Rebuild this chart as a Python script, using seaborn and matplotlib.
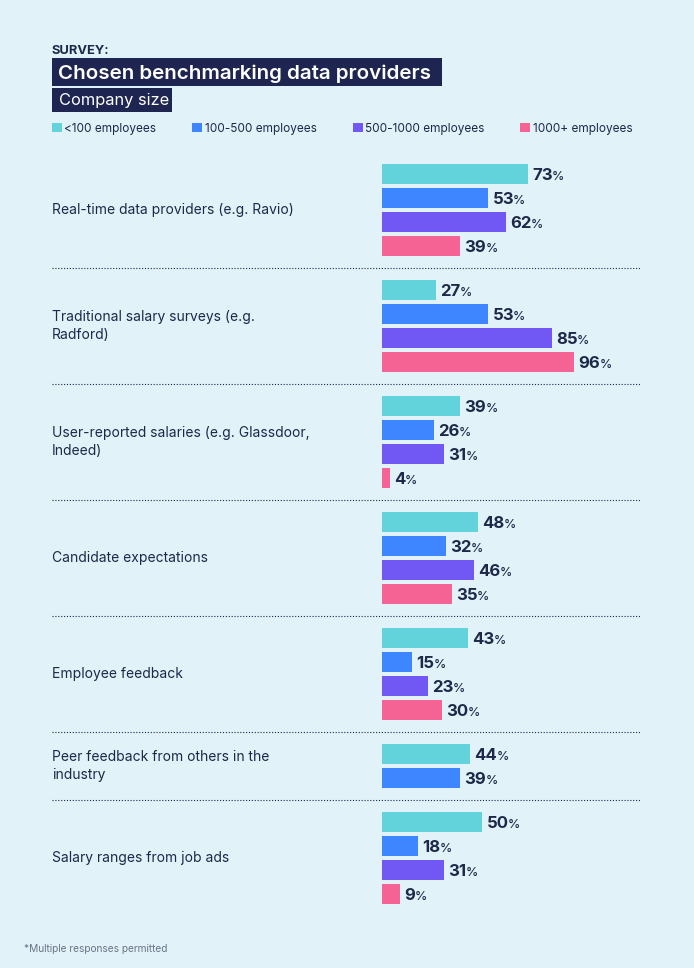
import pandas as pd
import numpy as np
import seaborn as sns
import matplotlib.pyplot as plt
from matplotlib.patches import Patch, Rectangle

# data
groups = ['Real-time data providers (e.g. Ravio)',
          'Traditional salary surveys (e.g.\nRadford)',
          'User-reported salaries (e.g. Glassdoor,\nIndeed)',
          'Candidate expectations',
          'Employee feedback',
          'Peer feedback from others in the\nindustry',
          'Salary ranges from job ads']
sizes = ['<100 employees', '100-500 employees', '500-1000 employees', '1000+ employees']
under_100 = [73, 27, 39, 48, 43, 44, 50]
from_100_500 = [53, 53, 26, 32, 15, 39, 18]
from_500_1000 = [62, 85, 31, 46, 23, np.nan, 31]
over_1000 = [39, 96, 4, 35, 30, np.nan, 9]

colors = ['#63d3db', '#3d86ff', '#7158f5', '#f46394']
bg = '#e1f3f8'
navy = '#1e2849'
box = '#1d2550'

series = [under_100, from_100_500, from_500_1000, over_1000]

# one row per bar, stacked down the page; groups separated by an extra gap
gap = 0.833
rows = []
label_pos = []
sep_pos = []
pos = 0.0
for gi, g in enumerate(groups):
    ps = []
    for si, s in enumerate(sizes):
        v = series[si][gi]
        if np.isnan(v):
            continue
        rows.append({'group': g, 'size': s, 'value': v, 'pos': round(pos, 3)})
        ps.append(pos)
        pos += 1
    label_pos.append(np.mean(ps))
    if gi < len(groups) - 1:
        sep_pos.append(ps[-1] + (1 + gap) / 2)
    pos += gap
df = pd.DataFrame(rows)

sns.set_theme(style='white')
plt.rcParams['font.family'] = ['Inter', 'DejaVu Sans']

W, H = 694, 968
fig = plt.figure(figsize=(W / 100, H / 100), dpi=100, facecolor=bg)

# axes spans the text column too; x=0 sits where the bars start
ax = fig.add_axes([52 / W, 1 - 930 / H, 589 / W, 780 / H])
ax.set_facecolor(bg)
sns.barplot(data=df, x='value', y='pos', hue='size', hue_order=sizes,
            palette=colors, orient='h', native_scale=True, dodge=False,
            width=0.833, saturation=1, errorbar=None, legend=False,
            linewidth=0, edgecolor='none', ax=ax)
ax.set_xlim(-165, 129.5)
ax.set_ylim(31.5, -1)
ax.axis('off')

for _, r in df.iterrows():
    t = ax.text(r['value'] + 2.2, r['pos'] + 0.25, f"{int(r['value'])}",
                ha='left', va='baseline', fontsize=12, fontweight='bold',
                color=navy)
    ax.annotate('%', xy=(1, r['pos'] + 0.25), xycoords=(t, 'data'),
                xytext=(-0.6, 0), textcoords='offset points',
                ha='left', va='baseline', fontsize=9, fontweight='medium',
                color=navy)

for g, y in zip(groups, label_pos):
    ax.text(-165, y, g, ha='left', va='center', fontsize=10, color=navy,
            linespacing=1.3)

for y in sep_pos:
    ax.plot([-165, 129.5], [y, y], color=navy, lw=0.8,
            ls=(0, (1, 1.6)), clip_on=False)

# header
fig.text(52 / W, 1 - 53.5 / H, 'SURVEY:', fontsize=9.3, fontweight='bold',
         color=navy, va='baseline')
fig.patches.append(Rectangle((52 / W, 1 - 86 / H), 389.5 / W, 28 / H,
                             transform=fig.transFigure, fc=box, ec='none'))
fig.text(58.5 / W, 1 - 79 / H, 'Chosen benchmarking data providers',
         fontsize=14.8, fontweight='semibold', color='white', va='baseline')
fig.patches.append(Rectangle((52 / W, 1 - 112 / H), 120 / W, 24 / H,
                             transform=fig.transFigure, fc=box, ec='none'))
fig.text(59 / W, 1 - 105.5 / H, 'Company size', fontsize=11.8,
         fontweight='normal', color='white', va='baseline')

handles = [Patch(facecolor=c, edgecolor='none') for c in colors]
fig.legend(handles, sizes, loc='upper left', bbox_to_anchor=(52 / W, 1 - 122.5 / H),
           ncol=4, frameon=False, fontsize=8.5, handlelength=0.85,
           handleheight=0.85, handletextpad=0.2, columnspacing=3.05,
           borderpad=0, borderaxespad=0, labelcolor=navy)

fig.text(24 / W, 1 - 952 / H, '*Multiple responses permitted', fontsize=7.3,
         color='#6b7388', va='baseline')

fig.savefig('out.png', dpi=100, facecolor=bg)
